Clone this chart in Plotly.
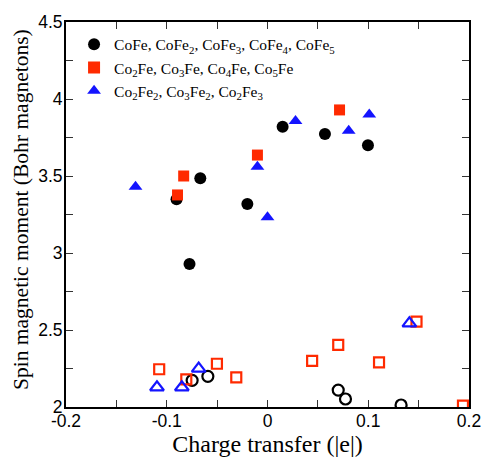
import plotly.graph_objects as go

# Filled: spin moments (upper cluster)
cofe_x = [0.015, 0.057, 0.0997, -0.0667, -0.0903, -0.020, -0.0774]
cofe_y = [3.82, 3.773, 3.70, 3.485, 3.349, 3.318, 2.929]
co_fe_x = [0.0715, -0.010, -0.0832, -0.0893]
co_fe_y = [3.929, 3.636, 3.50, 3.377]
co2_x = [0.0278, 0.101, 0.0806, -0.010, -0.131, 0.0]
co2_y = [3.857, 3.90, 3.794, 3.56, 3.43, 3.232]

# Open: lower cluster
cofe_open_x = [-0.0748, -0.0592, 0.0702, 0.0774, 0.1326]
cofe_open_y = [2.173, 2.199, 2.11, 2.052, 2.013]
co_fe_open_x = [-0.1075, -0.0806, -0.0502, -0.031, 0.0443, 0.0702, 0.1107, 0.1479, 0.194]
co_fe_open_y = [2.245, 2.18, 2.281, 2.193, 2.30, 2.403, 2.29, 2.554, 2.009]
co2_open_x = [-0.1097, -0.085, -0.0683, 0.1408]
co2_open_y = [2.128, 2.128, 2.249, 2.543]

x_ticks = [-0.2, -0.1, 0, 0.1, 0.2]
x_ticktext = ["-0.2", "-0.1", "0", "0.1", "0.2"]
y_ticks = [2, 2.5, 3, 3.5, 4, 4.5]
y_ticktext = ["2", "2.5", "3", "3.5", "4", "4.5"]

names = [
    "CoFe, CoFe<sub>2</sub>, CoFe<sub>3</sub>, CoFe<sub>4</sub>, CoFe<sub>5</sub>",
    "Co<sub>2</sub>Fe, Co<sub>3</sub>Fe, Co<sub>4</sub>Fe, Co<sub>5</sub>Fe",
    "Co<sub>2</sub>Fe<sub>2</sub>, Co<sub>3</sub>Fe<sub>2</sub>, Co<sub>2</sub>Fe<sub>3</sub>",
]

BLACK = "#000000"
RED = "#ff2a00"
BLUE = "#1414ff"

fig = go.Figure()
fig.add_trace(go.Scatter(x=cofe_x, y=cofe_y, mode="markers", name=names[0],
                         marker=dict(symbol="circle", size=12, color=BLACK)))
fig.add_trace(go.Scatter(x=co_fe_x, y=co_fe_y, mode="markers", name=names[1],
                         marker=dict(symbol="square", size=11, color=RED)))
fig.add_trace(go.Scatter(x=co2_x, y=co2_y, mode="markers", name=names[2],
                         marker=dict(symbol="triangle-up", size=12, color=BLUE)))
fig.add_trace(go.Scatter(x=cofe_open_x, y=cofe_open_y, mode="markers", showlegend=False,
                         marker=dict(symbol="circle-open", size=11, color=BLACK, line=dict(width=2.2))))
fig.add_trace(go.Scatter(x=co_fe_open_x, y=co_fe_open_y, mode="markers", showlegend=False,
                         marker=dict(symbol="square-open", size=10, color=RED, line=dict(width=2.2))))
fig.add_trace(go.Scatter(x=co2_open_x, y=co2_open_y, mode="markers", showlegend=False,
                         marker=dict(symbol="triangle-up-open", size=12, color=BLUE, line=dict(width=2.2))))

axis_common = dict(
    showgrid=False, zeroline=False, showline=True, linecolor="black", linewidth=2,
    mirror="allticks", ticks="inside", ticklen=7, tickwidth=1, tickcolor="#333",
    tickfont=dict(family="Liberation Sans, Arial", size=17.5, color="black"),
)

fig.update_xaxes(range=[-0.2, 0.2], tickvals=x_ticks, ticktext=x_ticktext,
                 minor=dict(dtick=0.05, ticks="inside", ticklen=7, tickcolor="#333"),
                 ticklabelstandoff=-3,
                 title=dict(text="Charge transfer (|e|)", standoff=2,
                            font=dict(family="Liberation Serif, Times New Roman", size=24, color="black")),
                 **axis_common)
fig.update_yaxes(range=[2, 4.5], tickvals=y_ticks, ticktext=y_ticktext,
                 minor=dict(dtick=0.25, ticks="inside", ticklen=7, tickcolor="#333"),
                 ticklabelstandoff=-2,
                 **axis_common)

fig.update_layout(
    width=493, height=462,
    margin=dict(l=66, r=13, t=22, b=55),
    paper_bgcolor="white", plot_bgcolor="white",
    showlegend=True,
    legend=dict(x=0.02, y=0.985, xanchor="left", yanchor="top",
                bgcolor="rgba(0,0,0,0)", itemsizing="constant", tracegroupgap=0,
                font=dict(family="Liberation Serif, Times New Roman", size=15.5, color="black")),
    annotations=[dict(text="Spin magnetic moment (Bohr magnetons)", textangle=-90,
                      xref="paper", yref="paper", x=-0.112, y=0.514,
                      xanchor="center", yanchor="middle", showarrow=False,
                      font=dict(family="Liberation Serif, Times New Roman", size=21.5, color="black"))],
)

fig.write_html("out.html", config={"displayModeBar": False},
               post_script="document.body.style.margin='0';")
